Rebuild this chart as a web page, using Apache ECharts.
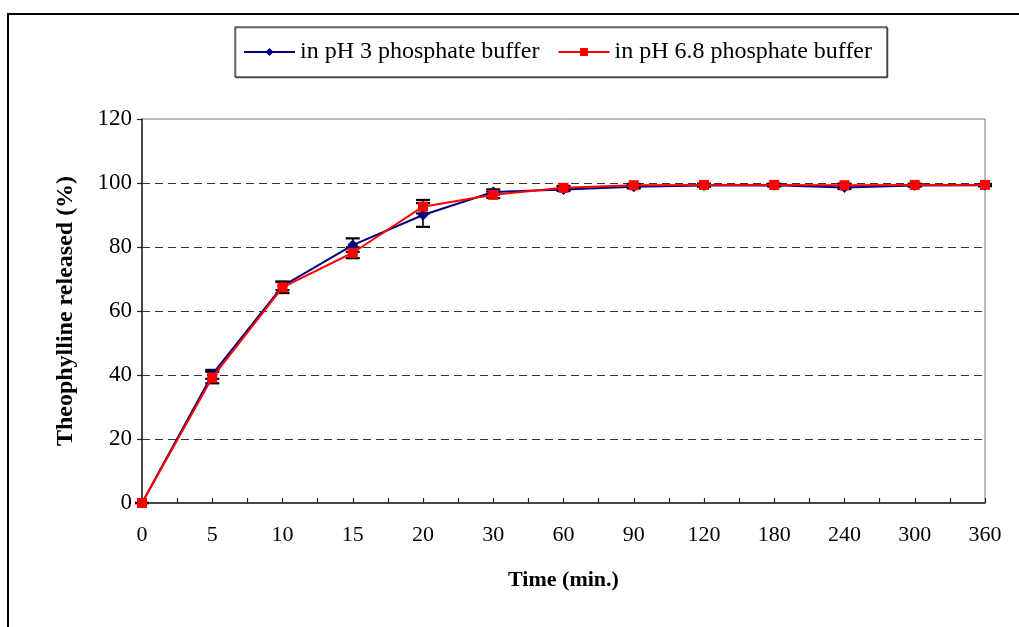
<!DOCTYPE html>
<html>
<head>
<meta charset="utf-8">
<script src="https://cdn.jsdelivr.net/npm/echarts@6/dist/echarts.min.js"></script>
<style>
html,body{margin:0;padding:0;background:#fff;}
#c{width:1019px;height:627px;}
</style>
</head>
<body>
<div id="c"></div>
<script>
var timeLabels = ['0','5','10','15','20','30','60','90','120','180','240','300','360'];
var seriesNames = ['in pH 3 phosphate buffer', 'in pH 6.8 phosphate buffer'];
var releasePH3 = [0, 40.2, 67.8, 80.6, 90.0, 97.2, 98.0, 98.8, 99.2, 99.3, 98.6, 99.2, 99.3];
var errorPH3   = [0, 1.4, 1.3, 2.1, 3.7, 0.8, 0.5, 0.5, 0.3, 0.3, 0.5, 0.3, 0.3];
var releasePH68 = [0, 39.2, 67.4, 78.2, 92.6, 96.3, 98.5, 99.3, 99.4, 99.4, 99.3, 99.4, 99.4];
var errorPH68   = [0, 1.8, 1.8, 1.7, 2.1, 1.0, 0.6, 0.4, 0.4, 0.4, 0.5, 0.4, 0.3];
var yTicks = [0, 20, 40, 60, 80, 100, 120];

var FONT = '"Liberation Serif", "Times New Roman", serif';

function pts(vals){ return vals.map(function(v,i){ return [i, v]; }); }
function errData(vals, errs){ return vals.map(function(v,i){ return [i, v - errs[i], v + errs[i]]; }); }

function errRender(params, api){
  var x = api.value(0);
  var lo = api.coord([x, api.value(1)]);
  var hi = api.coord([x, api.value(2)]);
  var w = 7;
  return {type:'group', children:[
    {type:'line', shape:{x1:lo[0], y1:lo[1], x2:hi[0], y2:hi[1]}, style:{stroke:'#000', lineWidth:1.6}},
    {type:'line', shape:{x1:lo[0]-w, y1:lo[1], x2:lo[0]+w, y2:lo[1]}, style:{stroke:'#000', lineWidth:2.2}},
    {type:'line', shape:{x1:hi[0]-w, y1:hi[1], x2:hi[0]+w, y2:hi[1]}, style:{stroke:'#000', lineWidth:2.2}}
  ]};
}

var chart = echarts.init(document.getElementById('c'), null, {renderer:'canvas'});
chart.setOption({
  animation:false,
  backgroundColor:'#fff',
  graphic:[{
    type:'rect', shape:{x:8, y:14, width:1040, height:640},
    style:{fill:'none', stroke:'#000', lineWidth:2}, z:-10
  }],
  legend:{
    data:seriesNames,
    left:235, top:27,
    padding:[13, 15, 13, 8],
    itemGap:18,
    itemWidth:51, itemHeight:10,
    borderColor:'#000', borderWidth:1,
    shadowColor:'rgba(0,0,0,0.35)', shadowOffsetX:1, shadowOffsetY:1, shadowBlur:0,
    backgroundColor:'#fff',
    textStyle:{fontFamily:FONT, fontSize:24, color:'#000'}
  },
  grid:{left:142, right:34, top:119, bottom:124, show:true, borderColor:'#808080', borderWidth:1, backgroundColor:'#fff'},
  xAxis:{
    type:'value', min:0, max:12, interval:1,
    name:'Time (min.)', nameLocation:'middle', nameGap:66,
    nameTextStyle:{fontFamily:FONT, fontSize:22, fontWeight:'bold', color:'#000'},
    axisLine:{show:true, onZero:false, lineStyle:{color:'#222', width:1.5}},
    axisTick:{show:true, inside:true, length:5, lineStyle:{color:'#222', width:1.2}},
    minorTick:{show:true, splitNumber:2, length:5, lineStyle:{color:'#222', width:1.2}},
    splitLine:{show:false},
    axisLabel:{margin:21, fontFamily:FONT, fontSize:22, color:'#000',
      formatter:function(v){ return timeLabels[v]; }}
  },
  yAxis:{
    type:'value', min:0, max:120, interval:20,
    name:'Theophylline released (%)', nameLocation:'middle', nameGap:64,
    nameTextStyle:{fontFamily:FONT, fontSize:24, fontWeight:'bold', color:'#000'},
    axisLine:{show:true, lineStyle:{color:'#222', width:1.5}},
    axisTick:{show:true, inside:false, length:5, lineStyle:{color:'#222', width:1.2}},
    splitLine:{show:true, showMinLine:false, showMaxLine:false, lineStyle:{color:'#333', width:1, type:[8,5]}},
    axisLabel:{margin:10, fontFamily:FONT, fontSize:23, color:'#000',
      formatter:function(v){ return yTicks.indexOf(v) >= 0 ? String(v) : ''; }}
  },
  series:[
    {type:'custom', name:'err3', renderItem:errRender, data:errData(releasePH3, errorPH3), z:2, silent:true},
    {type:'custom', name:'err68', renderItem:errRender, data:errData(releasePH68, errorPH68), z:2, silent:true},
    {type:'line', name:seriesNames[0], data:pts(releasePH3), symbol:'diamond', symbolSize:11,
      lineStyle:{color:'#000080', width:2}, itemStyle:{color:'#000080'}, z:3},
    {type:'line', name:seriesNames[1], data:pts(releasePH68), symbol:'rect', symbolSize:10,
      lineStyle:{color:'#FF0000', width:2}, itemStyle:{color:'#FF0000'}, z:4}
  ]
});
</script>
</body>
</html>
